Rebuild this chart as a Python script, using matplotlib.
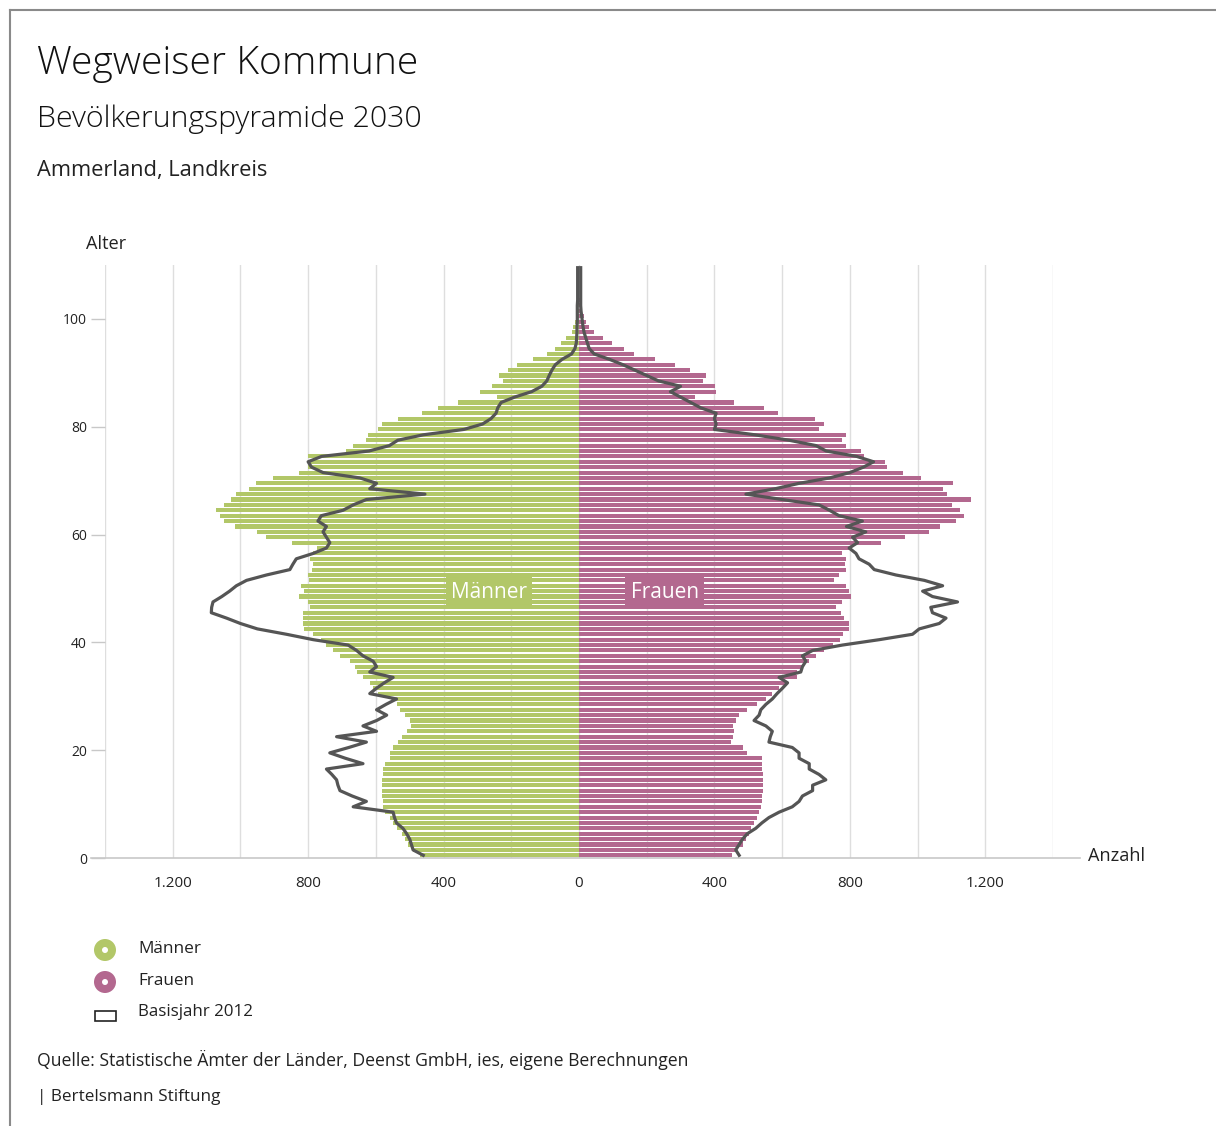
import numpy as np
import matplotlib
matplotlib.use("Agg")
import matplotlib.pyplot as plt
from matplotlib.patches import Circle, Rectangle
from matplotlib.lines import Line2D

# ---------------- data ----------------
ages = np.arange(0, 110)

maenner_2030 = [
    470, 490, 504, 514, 524, 539, 549, 559, 573, 578,
    580, 583, 583, 583, 582, 580, 578, 573, 559, 559,
    549, 534, 524, 509, 495, 500, 514, 529, 539, 549,
    593, 608, 618, 638, 657, 662, 677, 707, 726, 746,
    761, 785, 813, 815, 815, 815, 795, 800, 828, 813,
    820, 797, 800, 790, 787, 795, 785, 775, 849, 923,
    951, 1017, 1049, 1059, 1071, 1049, 1029, 1014, 975, 953,
    904, 828, 800, 800, 800, 687, 667, 628, 623, 593,
    583, 536, 465, 416, 357, 243, 293, 258, 224, 236,
    209, 182, 137, 94, 71, 53, 38, 22, 17, 12,
    5, 3, 2, 0, 0, 0, 0, 0, 0, 0,
]

frauen_2030 = [
    453, 463, 483, 493, 502, 507, 517, 527, 532, 537,
    540, 540, 542, 544, 544, 542, 540, 540, 540, 497,
    485, 448, 455, 458, 455, 463, 473, 497, 527, 552,
    571, 591, 611, 645, 645, 660, 680, 700, 724, 749,
    770, 780, 798, 796, 783, 773, 760, 776, 803, 798,
    788, 754, 768, 788, 785, 788, 778, 798, 891, 963,
    1034, 1066, 1113, 1138, 1125, 1103, 1157, 1088, 1074, 1105,
    1010, 958, 911, 904, 842, 833, 788, 776, 788, 709,
    724, 697, 589, 545, 458, 343, 406, 402, 367, 374,
    327, 284, 224, 162, 133, 97, 72, 45, 30, 22,
    15, 10, 6, 3, 0, 0, 0, 0, 0, 0,
]

maenner_2012 = [
    460, 490, 495, 500, 509, 520, 539, 545, 549, 667,
    628, 670, 706, 712, 716, 730, 746, 638, 690, 736,
    680, 628, 716, 598, 638, 598, 568, 598, 570, 539,
    618, 598, 575, 549, 618, 598, 608, 638, 657, 682,
    785, 864, 950, 1000, 1041, 1086, 1085, 1081, 1055, 1032,
    1012, 982, 923, 854, 845, 835, 785, 746, 736, 746,
    756, 746, 771, 761, 697, 667, 628, 455, 618, 598,
    647, 756, 790, 800, 760, 620, 560, 535, 460, 340,
    285, 260, 245, 240, 230, 190, 140, 110, 95, 88,
    80, 70, 50, 22, 12, 8, 7, 6, 6, 5,
    5, 5, 5, 4, 4, 4, 4, 4, 4, 4,
]

frauen_2012 = [
    473, 463, 473, 483, 497, 522, 540, 561, 591, 630,
    650, 660, 690, 690, 729, 709, 680, 680, 650, 650,
    630, 561, 565, 571, 552, 517, 532, 537, 552, 571,
    585, 601, 616, 591, 655, 660, 670, 660, 690, 778,
    887, 985, 1005, 1064, 1084, 1044, 1039, 1118, 1044, 1015,
    1074, 1020, 936, 872, 857, 827, 818, 798, 823, 808,
    847, 790, 837, 768, 740, 709, 600, 493, 580, 650,
    740, 800, 840, 870, 820, 730, 700, 620, 520, 400,
    405, 400, 405, 360, 330, 300, 270, 300, 235, 200,
    165, 130, 90, 45, 30, 25, 20, 15, 12, 10,
    8, 6, 5, 5, 5, 5, 5, 5, 5, 5,
]

x_ticks = [-1200, -800, -400, 0, 400, 800, 1200]
x_ticklabels = ["1.200", "800", "400", "0", "400", "800", "1.200"]
y_ticks = [0, 20, 40, 60, 80, 100]

GREEN = "#b2c768"
PINK = "#b3688f"
LINE = "#555555"
W, H = 1216, 1126

plt.rcParams["font.family"] = ["Open Sans", "DejaVu Sans"]

fig = plt.figure(figsize=(W / 100, H / 100), dpi=100)
fig.patch.set_facecolor("white")


def fx(px):
    return px / W


def fy(py):
    return 1 - py / H


ax = fig.add_axes([fx(105), fy(858), fx(1053) - fx(105), fy(265) - fy(858)])
ax.set_xlim(-1400, 1400)
ax.set_ylim(0, 110)

yc = ages + 0.5
ax.barh(yc, -np.array(maenner_2030), height=0.76, color=GREEN, linewidth=0, zorder=2)
ax.barh(yc, np.array(frauen_2030), height=0.76, color=PINK, linewidth=0, zorder=2)
ax.plot(-np.array(maenner_2012), yc, color=LINE, lw=2.3, zorder=3, solid_joinstyle="round")
ax.plot(np.array(frauen_2012), yc, color=LINE, lw=2.3, zorder=3, solid_joinstyle="round")

# grid
ax.set_xticks(x_ticks)
ax.set_xticklabels(x_ticklabels)
ax.set_xticks(np.arange(-1400, 1401, 200), minor=True)
ax.grid(True, axis="x", which="both", color="#dedede", lw=1.0, zorder=0)
ax.set_axisbelow(True)
ax.tick_params(axis="x", which="both", length=0, pad=13, labelsize=11, labelcolor="#222222")

ax.set_yticks(y_ticks)
ax.tick_params(axis="y", length=10, width=1, color="#c8c8c8", pad=3, labelsize=10, labelcolor="#222222")

for s in ["top", "right", "left"]:
    ax.spines[s].set_visible(False)
ax.spines["bottom"].set_color("#c8c8c8")
ax.spines["bottom"].set_linewidth(1.2)
ax.spines["bottom"].set_bounds(-1440, 1480)

# in-chart labels
ax.text(-265, 49.3, "Männer", ha="center", va="center", color="white", fontsize=15, zorder=5,
        bbox=dict(facecolor=GREEN, edgecolor="none", boxstyle="square,pad=0.25"))
ax.text(253, 49.3, "Frauen", ha="center", va="center", color="white", fontsize=15, zorder=5,
        bbox=dict(facecolor=PINK, edgecolor="none", boxstyle="square,pad=0.25"))

renderer = fig.canvas.get_renderer()


def fit_text(x, y, s, width_px, **kw):
    t = fig.text(fx(x), fy(y), s, fontsize=10, va="baseline", ha="left", **kw)
    w = t.get_window_extent(renderer=renderer).width
    t.set_fontsize(10 * width_px / w)
    return t


fit_text(37, 74, "Wegweiser Kommune", 380, color="#111111", fontweight="light")
fit_text(37, 127, "Bevölkerungspyramide 2030", 385, color="#111111", fontweight="light")
fit_text(37, 176, "Ammerland, Landkreis", 230, color="#222222")
fit_text(86, 249, "Alter", 40, color="#222222")
fit_text(1088, 861, "Anzahl", 57, color="#222222")

fit_text(138, 953, "Männer", 63, color="#222222")
fit_text(138, 985, "Frauen", 56, color="#222222")
fit_text(138, 1016, "Basisjahr 2012", 115, color="#222222")
fit_text(37, 1066, "Quelle: Statistische Ämter der Länder, Deenst GmbH, ies, eigene Berechnungen", 650,
         color="#222222")
fit_text(37, 1101, "| Bertelsmann Stiftung", 183, color="#222222")

# legend symbols (in inches from bottom-left)
tr = fig.dpi_scale_trans
for cy, col in [(950, GREEN), (982, PINK)]:
    fig.add_artist(Circle((105 / 100, (H - cy) / 100), 0.11, transform=tr, facecolor=col, edgecolor="none"))
    fig.add_artist(Circle((105 / 100, (H - cy) / 100), 0.03, transform=tr, facecolor="white", edgecolor="none"))
fig.add_artist(Rectangle((95 / 100, (H - 1021) / 100), 0.21, 0.10, transform=tr,
                         facecolor="white", edgecolor="#222222", lw=1.2))

# frame
fig.add_artist(Line2D([10 / 100, 10 / 100], [(H - 10) / 100, 0], transform=tr, color="#8a8a8a", lw=1.5))
fig.add_artist(Line2D([10 / 100, W / 100], [(H - 10) / 100, (H - 10) / 100], transform=tr, color="#8a8a8a", lw=1.5))

fig.savefig("out.png", dpi=100)
